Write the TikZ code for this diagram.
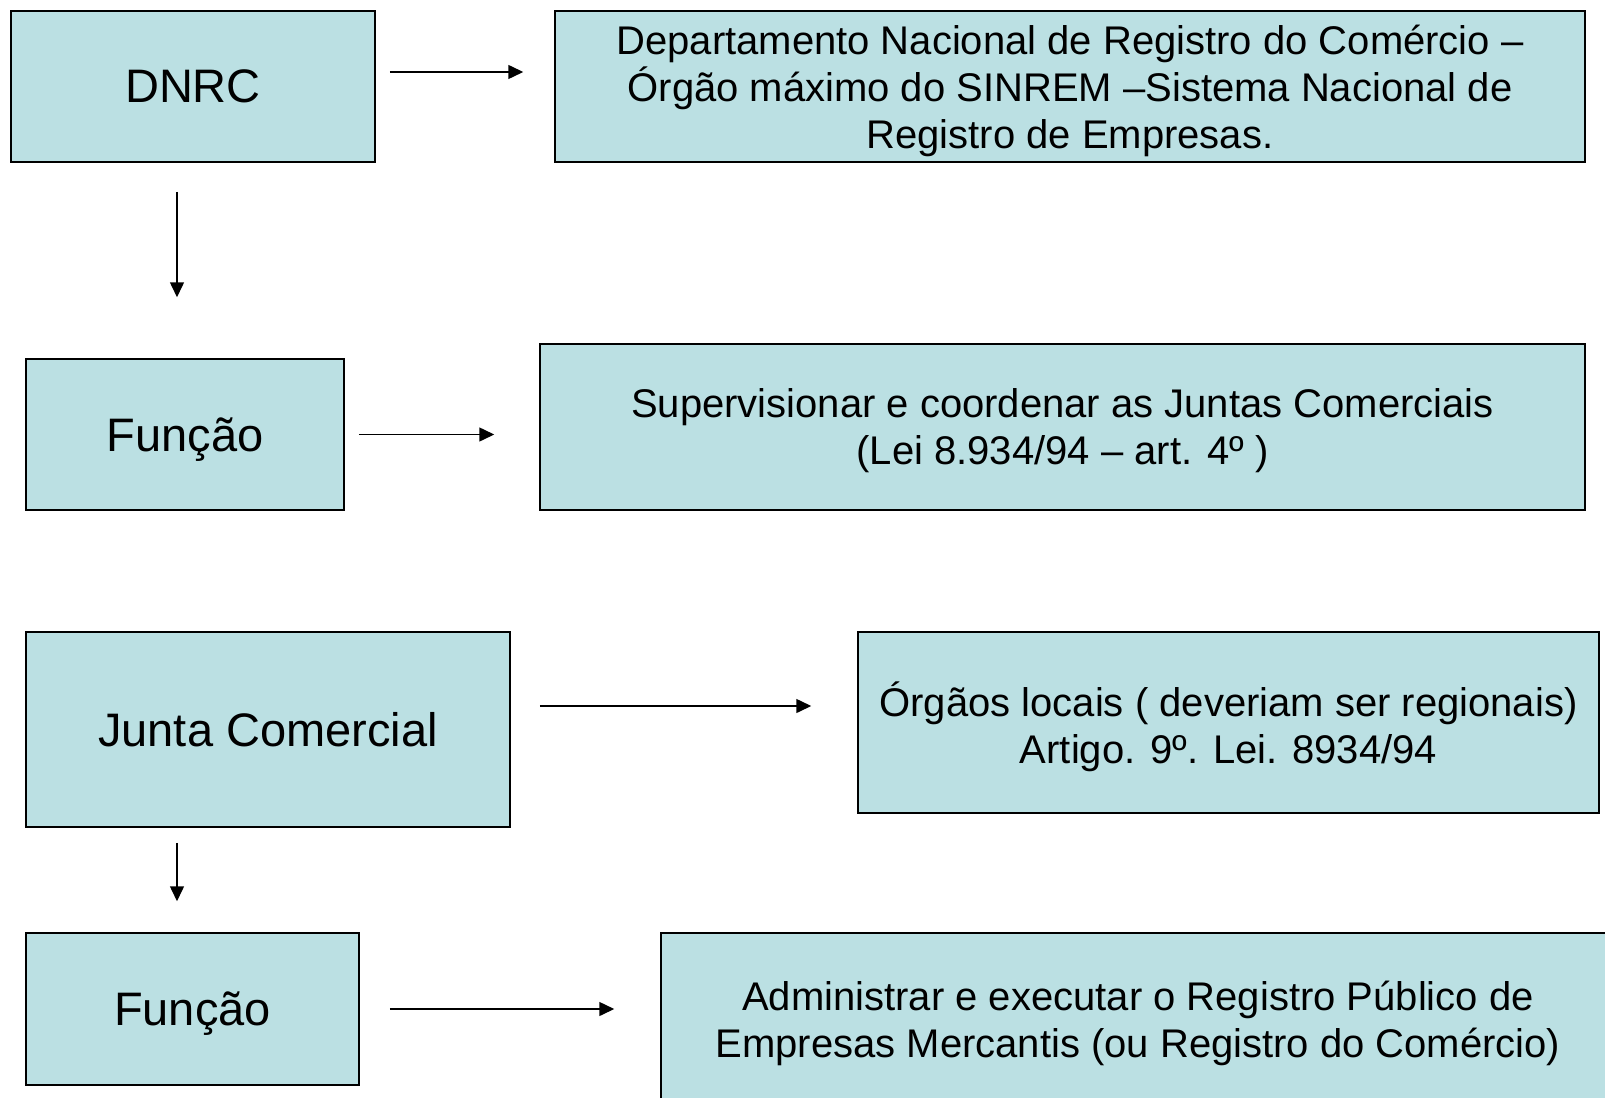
\documentclass[tikz,border=0pt]{standalone}
\usepackage{fontspec}
\setmainfont{Liberation Sans}
\usetikzlibrary{arrows.meta}
\definecolor{boxblue}{RGB}{187,224,227}
\begin{document}
\begin{tikzpicture}[x=1pt,y=-1pt,
    box/.style={draw,line width=1.5pt,fill=boxblue,inner sep=0pt,align=center,text depth=0pt},
    big/.style={font=\fontsize{47}{56}\selectfont},
    small/.style={font=\fontsize{40}{47}\selectfont},
    arr/.style={line width=1.5pt,-{Triangle[length=15pt,width=14pt]}}]
  \clip (0,0) rectangle (1605,1097);

  \begin{scope}
    \node[box,big,minimum width=364pt,minimum height=151pt] (dnrc) at (193,86.5) {DNRC};
    \node[box,small,minimum width=1030pt,minimum height=151pt] (dept) at (1070,86.5)
      {Departamento Nacional de Registro do Comércio –\\Órgão máximo do SINREM –Sistema Nacional de\\Registro de Empresas.};
    \draw[arr] ([xshift=14pt,yshift=14.5pt]dnrc.east) -- ([xshift=-31pt,yshift=14.5pt]dept.west);
  \end{scope}

  \begin{scope}
    \node[box,big,minimum width=318pt,minimum height=151pt] (func1) at (185,434.5) {Função};
    \node[box,small,minimum width=1045pt,minimum height=166pt] (sup) at (1062.5,427)
      {Supervisionar e coordenar as Juntas Comerciais\\(Lei 8.934/94 – art. 4º )};
    \draw[arr] ([xshift=14pt]func1.east) -- ([xshift=-45pt,yshift=-7.5pt]sup.west);
    \draw[arr] ([xshift=-16pt,yshift=-29pt]dnrc.south) -- ([xshift=-8pt,yshift=61pt]func1.north);
  \end{scope}

  \begin{scope}
    \node[box,big,minimum width=484pt,minimum height=195pt] (junta) at (268,729.5) {Junta Comercial};
    \node[box,small,minimum width=741pt,minimum height=181pt] (org) at (1228.5,722.5)
      {Órgãos locais ( deveriam ser regionais)\\Artigo. 9º. Lei. 8934/94};
    \draw[arr] ([xshift=29pt,yshift=23.5pt]junta.east) -- ([xshift=-46pt,yshift=16.5pt]org.west);
  \end{scope}

  \begin{scope}
    \node[box,big,minimum width=333pt,minimum height=152pt] (func2) at (192.5,1009) {Função};
    \node[box,small,minimum width=954pt,minimum height=172pt] (adm) at (1138,1019)
      {Administrar e executar o Registro Público de\\Empresas Mercantis (ou Registro do Comércio)};
    \draw[arr] ([xshift=30pt]func2.east) -- ([xshift=-46pt,yshift=10pt]adm.west);
    \draw[arr] ([xshift=-91pt,yshift=-15pt]junta.south) -- ([xshift=-15.5pt,yshift=31pt]func2.north);
  \end{scope}
\end{tikzpicture}
\end{document}
